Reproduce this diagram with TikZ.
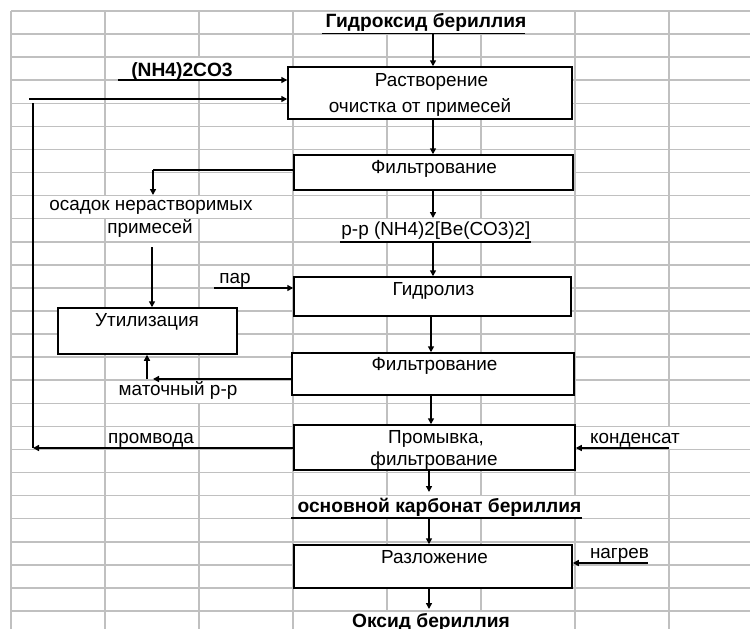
\documentclass[tikz,border=0pt]{standalone}
\usepackage{fontspec}
\setmainfont{Liberation Sans}
\usetikzlibrary{arrows.meta}
\definecolor{gridgray}{RGB}{192,192,192}
\newcommand\lbfont{\fontsize{18.9}{22}\selectfont}
\newcommand\blbfont{\fontsize{19.2}{22}\selectfont\bfseries}
\begin{document}
\begin{tikzpicture}[x=1pt,y=-1pt,
  gridline/.style={draw=gridgray, line width=1.6pt},
  box/.style={draw=black, fill=white, line width=1.5pt, rectangle, inner sep=0pt},
  flow/.style={line width=1.5pt, -{Triangle[length=6pt,width=6pt]}},
  plain/.style={line width=1.5pt},
  lbl/.style={anchor=base, inner sep=0pt, font=\lbfont},
  blbl/.style={anchor=base, inner sep=0pt, font=\blbfont}]
\useasboundingbox (0,0) rectangle (750,629);
\clip (0,0) rectangle (750,629);

% spreadsheet grid
\foreach \i in {0,...,7} \draw[gridline] ({11+94*\i},11) -- ({11+94*\i},640);
\foreach \j in {0,...,26} \draw[gridline] (11,{11+23.077*\j}) -- (760,{11+23.077*\j});
% cell borders hidden under overflowing text
\foreach \x/\r in {387/0, 481/0, 199/2, 105/8, 199/8, 387/9, 481/9, 199/16,
                   669/18, 387/21, 481/21, 575/21, 387/26, 481/26}
  \fill[white] ({\x-2},{11+23.077*\r+0.8}) rectangle ({\x+2},{11+23.077*(\r+1)-0.8});

% process boxes
\node[box, minimum width=284pt, minimum height=52pt] (rast)   at (430,93)    {};
\node[box, minimum width=279pt, minimum height=35pt] (filt1)  at (433.5,172.5) {};
\node[box, minimum width=277pt, minimum height=39pt] (hydro)  at (432.5,296.5) {};
\node[box, minimum width=282pt, minimum height=42pt] (filt2)  at (433,374)   {};
\node[box, minimum width=281pt, minimum height=45pt] (wash)   at (434.5,447.5) {};
\node[box, minimum width=278pt, minimum height=43pt] (decomp) at (433,566.5) {};
\node[box, minimum width=179pt, minimum height=46pt] (util)   at (147.5,331) {};

% box captions
\node[lbl] (rastA)   at (431.5,86)  {Растворение};
\node[lbl] (rastB)   at (420,112)   {очистка от примесей};
\node[lbl] (filt1T)  at (434,173)   {Фильтрование};
\node[lbl] (hydroT)  at (433.5,295) {Гидролиз};
\node[lbl] (filt2T)  at (434.5,370) {Фильтрование};
\node[lbl] (washA)   at (436,443)   {Промывка,};
\node[lbl] (washB)   at (434,465)   {фильтрование};
\node[lbl] (decompT) at (434.5,563) {Разложение};
\node[lbl] (utilT)   at (147,326)   {Утилизация};

% stream labels
\node[blbl] (feed)   at (426,27.5) {Гидроксид бериллия};
\node[blbl] (reag)   at (182,76)   {(NH4)2CO3};
\node[lbl]  (sedA)   at (151,210)  {осадок нерастворимых};
\node[lbl]  (sedB)   at (150,233)  {примесей};
\node[lbl]  (sol)    at (436,235)  {р-р (NH4)2[Be(CO3)2]};
\node[lbl]  (steam)  at (235,283)  {пар};
\node[lbl]  (mother) at (178,395)  {маточный р-р};
\node[lbl]  (rinse)  at (151,443)  {промвода};
\node[lbl]  (cond)   at (635,443)  {конденсат};
\node[blbl] (bcarb)  at (439.5,512) {основной карбонат бериллия};
\node[lbl]  (heat)   at (619.5,558) {нагрев};
\node[blbl] (oxide)  at (431,627)  {Оксид бериллия};

% underlines and free line ends
\coordinate (feedL) at (322,33.5);  \coordinate (feedR) at (525,33.5);
\coordinate (solL)  at (340,242);   \coordinate (solR)  at (531,242);
\coordinate (bcL)   at (291,518);   \coordinate (bcR)   at (582,518);
\draw[plain] (feedL) -- (feedR);
\draw[plain] (solL) -- (solR);
\draw[plain] (bcL) -- (bcR);

% main line
\coordinate (m1) at (433,33.5);
\coordinate (m2) at (431,0);
\coordinate (m3) at (429,0);
\draw[flow] (m1) -- (m1 |- rast.north);
\draw[flow] (m1 |- rast.south) -- (m1 |- filt1.north);
\draw[flow] (m1 |- filt1.south) -- (433,218);
\draw[flow] (m1 |- solL) -- (m1 |- hydro.north);
\draw[flow] (m2 |- hydro.south) -- (m2 |- filt2.north);
\draw[flow] (m2 |- filt2.south) -- (m2 |- wash.north);
\draw[flow] (m3 |- wash.south) -- (429,492);
\draw[flow] (m3 |- bcL) -- (m3 |- decomp.north);
\draw[flow] (m3 |- decomp.south) -- (429,609);

% side inputs
\coordinate (reagS)  at (118,80);
\coordinate (recS)   at (29,99);
\coordinate (steamS) at (214,288);
\coordinate (condS)  at (669,448);
\coordinate (heatS)  at (648,563);
\draw[flow] (reagS) -- (reagS -| rast.west);
\draw[flow] (recS) -- (recS -| rast.west);
\draw[flow] (steamS) -- (steamS -| hydro.west);
\draw[flow] (condS) -- (condS -| wash.east);
\draw[flow] (heatS) -- (heatS -| decomp.east);

% side outputs
\coordinate (sedC)  at (153,170);
\coordinate (sedE)  at (153,195);
\coordinate (utilS) at (152,247);
\coordinate (motC)  at (153,379);
\coordinate (motU)  at (147,379);
\coordinate (recC)  at (33,448);
\coordinate (recT)  at (33,103);
\draw[plain] (sedC -| filt1.west) -- (sedC);
\draw[flow]  (sedC) -- (sedE);
\draw[flow]  (utilS) -- (utilS |- util.north);
\draw[flow]  (motC -| filt2.west) -- (motC);
\draw[flow]  (motU) -- (motU |- util.south);
\draw[flow]  (recC -| wash.west) -- (recC);
\draw[plain] (recC) -- (recT);
\end{tikzpicture}
\end{document}
